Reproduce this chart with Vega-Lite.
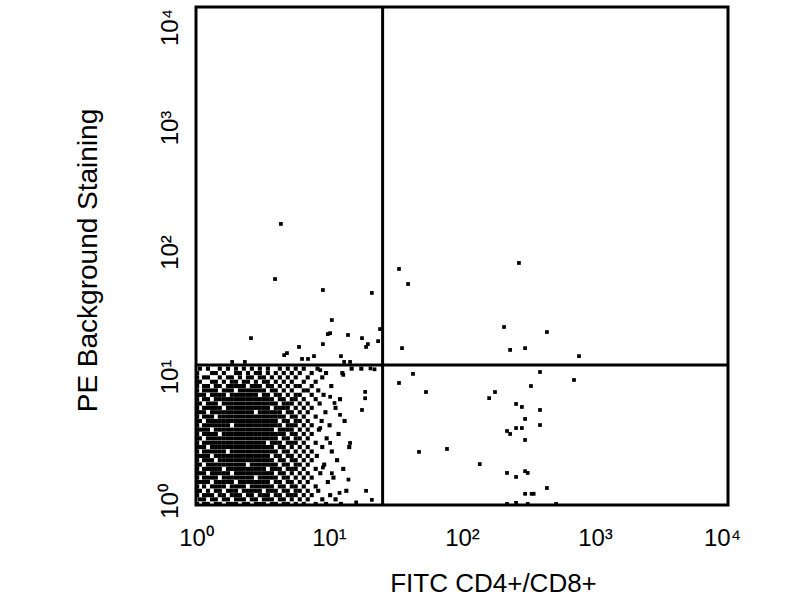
{
  "$schema": "https://vega.github.io/schema/vega-lite/v6.json",
  "width": 532,
  "height": 498,
  "autosize": "none",
  "padding": {"left": 196, "top": 7, "right": 72, "bottom": 95},
  "background": "white",
  "config": {
    "view": {"stroke": "black", "strokeWidth": 3},
    "font": "Liberation Sans"
  },
  "datasets": {
    "core": [
      {"y": 1.02, "xs": [1.02,1.15,1.23,1.41,1.51,1.74,1.86,2.0,2.29,2.46,2.82,3.02,3.24,3.72,3.98,4.57,4.9,5.62,6.46,7.94,9.5,12.3]},
      {"y": 1.11, "xs": [1.07,1.15,1.32,1.41,1.62,1.74,2.0,2.14,2.29,2.63,2.82,3.24,3.47,3.72,4.27,4.57,5.25,6.03,6.92,8.9,11.2]},
      {"y": 1.2, "xs": [1.02,1.15,1.23,1.32,1.51,1.62,1.86,2.0,2.14,2.46,2.63,3.02,3.24,3.47,3.98,4.27,4.9,5.25,5.62,6.46,7.41,10.2]},
      {"y": 1.3, "xs": [1.02,1.07,1.23,1.41,1.51,1.74,1.86,2.0,2.29,2.46,2.63,2.82,3.02,3.47,3.72,3.98,4.57,4.9,5.62,6.03,6.92,8.3,13.5]},
      {"y": 1.41, "xs": [1.02,1.15,1.32,1.41,1.51,1.62,1.86,2.0,2.14,2.29,2.63,2.82,3.02,3.24,3.47,3.72,4.27,4.57,5.25,5.62,6.46,7.94]},
      {"y": 1.53, "xs": [1.02,1.07,1.15,1.23,1.41,1.51,1.62,1.74,1.86,2.14,2.29,2.46,2.63,2.82,3.02,3.24,3.47,3.98,4.27,4.9,5.25,6.03,6.92,9.8]},
      {"y": 1.66, "xs": [1.02,1.15,1.23,1.32,1.41,1.62,1.74,1.86,2.0,2.14,2.29,2.46,2.63,3.02,3.24,3.47,3.72,3.98,4.57,4.9,5.62,6.46,7.41,10.8]},
      {"y": 1.8, "xs": [1.02,1.07,1.15,1.32,1.41,1.51,1.62,1.74,2.0,2.14,2.29,2.46,2.63,2.82,3.02,3.24,3.47,3.72,4.27,4.57,5.25,6.03,6.92,8.6]},
      {"y": 1.95, "xs": [1.02,1.15,1.23,1.32,1.41,1.51,1.74,1.86,2.0,2.14,2.29,2.46,2.63,2.82,3.02,3.24,3.72,3.98,4.27,4.9,5.25,5.62,6.46,7.94,12.8]},
      {"y": 2.11, "xs": [1.02,1.07,1.23,1.32,1.41,1.51,1.62,1.74,1.86,2.0,2.14,2.29,2.63,2.82,3.02,3.24,3.47,3.72,3.98,4.57,4.9,5.62,6.03,6.92,9.2]},
      {"y": 2.29, "xs": [1.02,1.15,1.23,1.32,1.51,1.62,1.74,1.86,2.0,2.14,2.29,2.46,2.63,2.82,3.02,3.24,3.47,3.72,4.27,4.57,5.25,5.62,6.46,7.41,11.5]},
      {"y": 2.48, "xs": [1.02,1.07,1.15,1.23,1.41,1.51,1.62,1.74,1.86,2.0,2.14,2.29,2.46,2.63,2.82,3.02,3.24,3.47,3.98,4.27,4.9,5.25,6.03,6.92,8.1]},
      {"y": 2.69, "xs": [1.02,1.15,1.23,1.32,1.41,1.51,1.62,1.86,2.0,2.14,2.29,2.46,2.63,2.82,3.02,3.24,3.47,3.72,3.98,4.57,4.9,5.62,6.46,7.41,10.5]},
      {"y": 2.92, "xs": [1.02,1.07,1.15,1.32,1.41,1.51,1.62,1.74,1.86,2.0,2.14,2.29,2.46,2.63,2.82,3.02,3.24,3.47,3.72,4.27,4.57,5.25,6.03,6.92,8.9,14.2]},
      {"y": 3.16, "xs": [1.02,1.15,1.23,1.32,1.41,1.51,1.62,1.74,1.86,2.0,2.14,2.29,2.46,2.63,2.82,3.02,3.24,3.72,3.98,4.27,4.9,5.25,5.62,6.46,7.94]},
      {"y": 3.43, "xs": [1.02,1.07,1.23,1.32,1.41,1.51,1.62,1.74,1.86,2.0,2.14,2.29,2.46,2.63,2.82,3.02,3.24,3.47,3.72,3.98,4.57,4.9,5.62,6.03,6.92,9.6]},
      {"y": 3.72, "xs": [1.02,1.15,1.23,1.32,1.41,1.62,1.74,1.86,2.0,2.14,2.29,2.46,2.63,2.82,3.02,3.24,3.47,3.72,3.98,4.27,4.57,5.25,5.62,6.46,7.41,11.8]},
      {"y": 4.03, "xs": [1.02,1.07,1.15,1.23,1.41,1.51,1.62,1.74,1.86,2.0,2.14,2.29,2.46,2.63,2.82,3.02,3.24,3.47,3.72,4.27,4.57,4.9,5.25,6.03,6.92,8.4]},
      {"y": 4.37, "xs": [1.02,1.15,1.23,1.32,1.41,1.51,1.62,1.74,2.0,2.14,2.29,2.46,2.63,2.82,3.02,3.24,3.47,3.72,3.98,4.27,4.9,5.25,5.62,6.46,7.41,10.1]},
      {"y": 4.73, "xs": [1.02,1.07,1.23,1.32,1.41,1.51,1.62,1.74,1.86,2.0,2.14,2.29,2.46,2.63,2.82,3.02,3.24,3.47,3.72,3.98,4.57,4.9,5.62,6.03,6.92,8.8,13.1]},
      {"y": 5.13, "xs": [1.02,1.15,1.23,1.32,1.51,1.62,1.74,1.86,2.0,2.14,2.29,2.46,2.63,2.82,3.02,3.24,3.47,3.72,3.98,4.27,4.57,5.25,5.62,6.46,7.94]},
      {"y": 5.56, "xs": [1.02,1.07,1.15,1.32,1.41,1.51,1.62,1.74,1.86,2.0,2.14,2.29,2.46,2.63,3.02,3.24,3.47,3.72,3.98,4.27,4.9,5.25,6.03,6.92,9.4]},
      {"y": 6.03, "xs": [1.02,1.15,1.23,1.32,1.41,1.51,1.74,1.86,2.0,2.14,2.29,2.46,2.63,2.82,3.02,3.24,3.47,3.98,4.27,4.57,4.9,5.62,6.46,7.41,11.2]},
      {"y": 6.53, "xs": [1.02,1.07,1.23,1.32,1.41,1.62,1.74,1.86,2.0,2.14,2.29,2.46,2.63,2.82,3.02,3.24,3.47,3.72,3.98,4.57,4.9,5.25,6.03,6.92,8.5]},
      {"y": 7.08, "xs": [1.02,1.15,1.23,1.41,1.51,1.62,1.74,1.86,2.0,2.14,2.29,2.46,2.63,2.82,3.02,3.24,3.47,3.72,4.27,4.57,5.25,5.62,6.46,7.94,12.1]},
      {"y": 7.67, "xs": [1.02,1.07,1.15,1.32,1.41,1.51,1.62,1.86,2.0,2.14,2.29,2.46,2.63,2.82,3.24,3.47,3.98,4.27,4.9,5.62,6.03,7.41,9.1]},
      {"y": 8.32, "xs": [1.02,1.15,1.23,1.32,1.41,1.62,1.74,1.86,2.14,2.29,2.46,2.63,2.82,3.02,3.24,3.72,3.98,4.57,5.25,6.46,6.92,8.3]},
      {"y": 9.02, "xs": [1.02,1.15,1.23,1.41,1.51,1.74,1.86,2.0,2.14,2.29,2.63,2.82,3.02,3.47,3.72,4.27,4.9,5.62,6.03,7.41,10.4]},
      {"y": 9.77, "xs": [1.02,1.07,1.32,1.41,1.62,1.86,2.0,2.29,2.46,2.82,3.24,3.47,3.98,4.57,5.25,6.46,7.94]},
      {"y": 10.59, "xs": [1.02,1.15,1.23,1.51,1.74,1.86,2.14,2.46,2.63,3.02,3.24,3.72,4.27,4.9,5.62,6.92,8.9]},
      {"y": 11.48, "xs": [1.02,1.32,1.41,1.62,2.0,2.14,2.46,2.82,3.02,3.47,3.98,4.57,5.25,6.03,7.41,9.5,12.6]},
      {"y": 12.45, "xs": [1.07,1.23,1.51,1.74,2.0,2.29,2.63,3.02,3.47,4.27,4.9,5.62,6.46,8.2,14.8,17.5]}
    ],
    "pts": [
      {"x": 18.7, "y": 8.1}, {"x": 18.7, "y": 7.2}, {"x": 17.7, "y": 5.8}, {"x": 10.2, "y": 3.15}, {"x": 14.4, "y": 3.15},
      {"x": 8.6, "y": 4.15}, {"x": 12.1, "y": 5.3}, {"x": 10.2, "y": 7.4}, {"x": 11.0, "y": 6.6}, {"x": 8.6, "y": 12.1},
      {"x": 12.8, "y": 11.1}, {"x": 9.0, "y": 2.0}, {"x": 10.5, "y": 1.8}, {"x": 14.0, "y": 1.6}, {"x": 19.0, "y": 1.3},
      {"x": 16.0, "y": 1.05}, {"x": 21.0, "y": 1.1}, {"x": 12.0, "y": 1.25}, {"x": 22.0, "y": 12.3}, {"x": 20.5, "y": 12.5},
      {"x": 4.35, "y": 181}, {"x": 3.93, "y": 65.3}, {"x": 9.0, "y": 53.3}, {"x": 21.0, "y": 50.5}, {"x": 2.59, "y": 21.9},
      {"x": 10.5, "y": 30.6}, {"x": 9.8, "y": 23.6}, {"x": 10.2, "y": 24.0}, {"x": 13.9, "y": 23.2}, {"x": 9.0, "y": 19.6},
      {"x": 5.95, "y": 18.6}, {"x": 4.83, "y": 16.6}, {"x": 4.6, "y": 16.0}, {"x": 7.71, "y": 15.7}, {"x": 6.27, "y": 14.9},
      {"x": 6.95, "y": 14.9}, {"x": 12.3, "y": 15.7}, {"x": 17.7, "y": 21.9}, {"x": 19.6, "y": 19.6}, {"x": 19.0, "y": 18.6},
      {"x": 23.4, "y": 20.7}, {"x": 24.2, "y": 25.9}, {"x": 1.87, "y": 14.1}, {"x": 2.33, "y": 14.1}, {"x": 13.0, "y": 14.1},
      {"x": 14.4, "y": 14.1},
      {"x": 33.6, "y": 78.7}, {"x": 268, "y": 87.9}, {"x": 39.3, "y": 59.6}, {"x": 207, "y": 26.9}, {"x": 435, "y": 24.5},
      {"x": 35.4, "y": 18.2}, {"x": 230, "y": 17.6}, {"x": 298, "y": 18.2}, {"x": 758, "y": 15.7},
      {"x": 42.8, "y": 11.3}, {"x": 33.6, "y": 9.55}, {"x": 53.6, "y": 8.08}, {"x": 386, "y": 11.7}, {"x": 695, "y": 10.1},
      {"x": 330, "y": 9.03}, {"x": 177, "y": 8.08}, {"x": 160, "y": 7.22}, {"x": 255, "y": 6.48}, {"x": 282, "y": 6.13},
      {"x": 386, "y": 5.8}, {"x": 298, "y": 4.91}, {"x": 386, "y": 4.39}, {"x": 255, "y": 4.15}, {"x": 282, "y": 4.15},
      {"x": 218, "y": 3.93}, {"x": 230, "y": 3.72}, {"x": 298, "y": 3.33}, {"x": 47.5, "y": 2.67}, {"x": 77.1, "y": 2.82},
      {"x": 136, "y": 2.13}, {"x": 218, "y": 1.81}, {"x": 255, "y": 1.68}, {"x": 298, "y": 1.87}, {"x": 312, "y": 1.81},
      {"x": 435, "y": 1.37}, {"x": 298, "y": 1.23}, {"x": 334, "y": 1.23}, {"x": 346, "y": 1.23}, {"x": 255, "y": 1.04},
      {"x": 218, "y": 1.02}, {"x": 312, "y": 1.02}, {"x": 510, "y": 1.02}
    ]
  },
  "layer": [
    {
      "data": {"name": "core"},
      "transform": [{"flatten": ["xs"], "as": ["x"]}],
      "mark": {"type": "point", "shape": "square", "filled": true, "size": 17, "color": "black", "opacity": 1},
      "encoding": {
        "x": {
          "field": "x", "type": "quantitative",
          "scale": {"type": "log", "domain": [1, 10000]},
          "axis": {
            "title": "FITC CD4+/CD8+",
            "values": [1, 10, 100, 1000, 10000],
            "labelExpr": "['10⁰','10¹','10²','10³','10⁴'][round(log(datum.value)/LN10)]",
            "ticks": false, "domain": false, "grid": false,
            "labelFontSize": 24, "labelColor": "black", "labelFlush": false, "labelOverlap": false,
            "labelBaseline": "alphabetic", "labelPadding": 40,
            "labelOffset": {"condition": {"test": "datum.value == 10000", "value": -6}, "value": 0},
            "titleFontSize": 26, "titleFontWeight": "normal", "titleColor": "black",
            "titleX": 297, "titleY": 86, "titleBaseline": "alphabetic", "titleAlign": "center"
          }
        },
        "y": {
          "field": "y", "type": "quantitative",
          "scale": {"type": "log", "domain": [1, 10000]},
          "axis": {
            "title": "PE Background Staining",
            "values": [1, 10, 100, 1000, 10000],
            "labelExpr": "['10⁰','10¹','10²','10³','10⁴'][round(log(datum.value)/LN10)]",
            "ticks": false, "domain": false, "grid": false,
            "labelFontSize": 24, "labelColor": "black", "labelFlush": false, "labelOverlap": false,
            "labelAngle": -90, "labelAlign": "center", "labelBaseline": "alphabetic", "labelPadding": 19,
            "labelOffset": {"condition": {"test": "datum.value == 10000", "value": 20}, "value": -4},
            "titleFontSize": 28, "titleFontWeight": "normal", "titleColor": "black",
            "titleAngle": -90, "titleX": -100, "titleY": 253, "titleBaseline": "alphabetic", "titleAlign": "center"
          }
        }
      }
    },
    {
      "data": {"name": "pts"},
      "mark": {"type": "point", "shape": "square", "filled": true, "size": 14, "color": "black", "opacity": 1},
      "encoding": {
        "x": {"field": "x", "type": "quantitative"},
        "y": {"field": "y", "type": "quantitative"}
      }
    },
    {
      "data": {"values": [{"gx": 25.3}]},
      "mark": {"type": "rule", "strokeWidth": 3, "color": "black"},
      "encoding": {"x": {"field": "gx", "type": "quantitative"}}
    },
    {
      "data": {"values": [{"gy": 13.3}]},
      "mark": {"type": "rule", "strokeWidth": 3, "color": "black"},
      "encoding": {"y": {"field": "gy", "type": "quantitative"}}
    }
  ]
}
